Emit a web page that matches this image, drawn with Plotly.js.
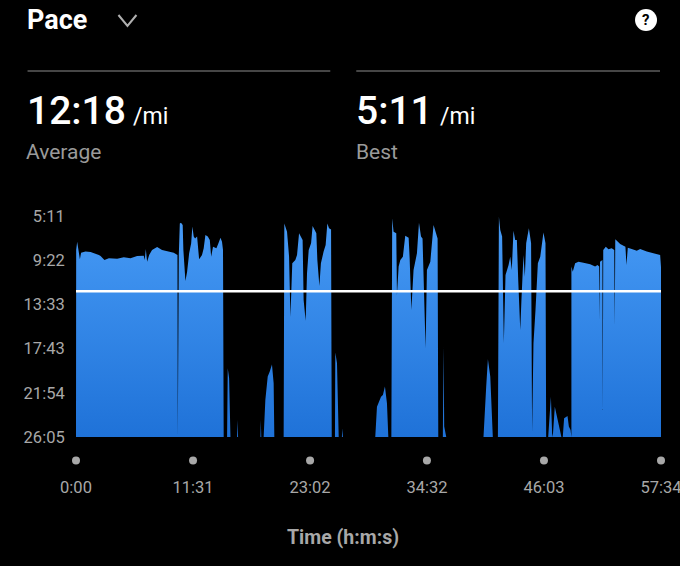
<!DOCTYPE html>
<html>
<head>
<meta charset="utf-8">
<script src="https://cdn.plot.ly/plotly-3.0.1.min.js"></script>
<style>html,body{margin:0;padding:0;background:#000;overflow:hidden;width:680px;height:566px}#c{width:720px;height:566px}</style>
</head>
<body>
<div id="c"></div>
<script>
// elapsed time (s) and pace (s per mile)
const timeSec = [
0,1,7,15,23,30,56,86,115,135,145,168,194,243,282,322,361,400,406,412,420,432,449,479,508,538,577,599,601,607,613,620,630,634,642,646,656,668,680,687,695,703,715,727,744,754,764,778,790,798,809,829,841,853,862,868,872,
892,896,904,912,951,953,957,1089,1091,1094,1108,1118,1132,1144,1157,1167,1171,
1226,1230,1246,1258,1266,1270,1277,1295,1305,1317,1328,1338,1344,1356,1364,1374,1388,1397,1419,1425,1437,1446,1462,1474,1484,1494,1506,1510,
1529,1531,1541,1551,1570,1572,1576,
1767,1777,1787,1801,1812,1824,1836,1844,
1862,1867,1875,1891,1895,1905,1915,1930,1944,1964,1970,1980,1993,2013,2025,2037,2046,2052,2064,2072,2092,2111,2127,2135,2139,
2166,2170,2174,2186,
2406,2422,2432,2446,2461,
2491,2497,2505,2516,2526,2536,2554,2564,2573,2583,2593,2603,2611,2623,2630,2642,2650,2658,2674,2687,2693,2701,2713,2727,2741,2760,2772,2776,
2788,2804,2811,2815,2827,2839,2859,2866,
2874,2882,2902,2910,2920,2922,
2925,2925,2933,2947,2967,2996,3036,3065,3079,3089,3091,3094,3108,3110,3113,3128,3144,3163,3178,3181,3184,3213,3232,3244,3250,3258,3281,3311,3331,3370,3409,3449,3454,3454
];
const paceSec = [
1565,504,457,504,557,519,513,515,523,532,538,561,551,553,545,551,538,536,561,498,570,532,504,487,504,509,519,532,1565,532,353,349,362,504,646,680,627,523,466,371,428,438,428,557,532,494,419,428,447,542,485,494,466,434,457,504,1565,
1565,1175,1232,1565,1565,1468,1565,1565,1468,1565,1565,1355,1222,1194,1153,1260,1565,
1565,353,400,542,882,788,579,561,532,409,428,447,788,905,636,504,466,368,409,561,708,579,513,475,353,381,387,1565,
1565,1086,1147,1565,1565,1516,1565,
1565,1393,1368,1336,1326,1279,1374,1565,
1565,324,400,409,759,598,561,542,423,434,551,844,617,523,349,428,438,636,1062,617,570,362,419,438,1565,
1565,1052,1506,1565,
1565,1279,1124,1222,1565,
1565,315,390,428,1033,646,589,542,617,394,447,447,674,958,788,532,655,466,381,466,1534,1033,844,579,542,404,466,1565,
1565,1336,1544,1565,1393,1449,1525,1565,
1565,1459,1446,1506,1525,1565,
1565,598,627,579,570,576,585,598,589,598,901,570,561,1412,504,485,500,494,504,939,443,470,481,485,589,491,498,508,498,513,523,532,600,1565
];
const averagePace = 738;
const axisStartEnd = [0, 3454];
const xTickVals = [0, 691, 1382, 2072, 2763, 3454];
const xTickText = ['0:00', '11:31', '23:02', '34:32', '46:03', '57:34'];
const yTickVals = [311, 562, 813, 1063, 1314, 1565];
const yTickText = ['5:11', '9:22', '13:33', '17:43', '21:54', '26:05'];

const L = 75.5, R = 661, T = 216, B = 437, W = 720, H = 566;
const fx = p => (p - L) / (R - L);
const fy = p => (B - p) / (B - T);
const font = 'Roboto, sans-serif';

function label(text, x, y, size, color, weight) {
  return {text, xref:'paper', yref:'paper', x:fx(x), y:fy(y), xanchor:'left', yanchor:'middle',
    showarrow:false, borderpad:0, font:{family:font, size, color, weight:weight||400}};
}
function seg(x0,y0,x1,y1,color,w){
  return {type:'line', xref:'paper', yref:'paper', x0:fx(x0), x1:fx(x1), y0:fy(y0), y1:fy(y1), line:{color, width:w}};
}
const dots = xTickVals.map(v => ({type:'circle', xref:'paper', yref:'paper', xsizemode:'pixel', ysizemode:'pixel',
  xanchor:v / axisStartEnd[1], yanchor:fy(460.5), x0:-4, x1:4, y0:-4, y1:4, fillcolor:'#a8a8a8', line:{width:0}}));

const traces = [
  {x:timeSec, y:paceSec, type:'scatter', mode:'lines', line:{width:0, color:'rgba(0,0,0,0)'}, fill:'toself',
   fillgradient:{type:'vertical', start:216, stop:1565, colorscale:[[0,'#4a9ef8'],[1,'#1f72d8']]}, hoverinfo:'skip'},
  {x:axisStartEnd, y:[averagePace, averagePace], type:'scatter', mode:'lines', line:{color:'#ffffff', width:2.5}}
];

const layout = {
  width:W, height:H, paper_bgcolor:'#000', plot_bgcolor:'#000', showlegend:false,
  margin:{l:L, r:W-R, t:T, b:H-B, pad:0},
  xaxis:{range:axisStartEnd, tickmode:'array', tickvals:xTickVals, ticktext:xTickText, showgrid:false, zeroline:false, showline:false,
    ticks:'outside', ticklen:35, tickcolor:'rgba(0,0,0,0)', tickfont:{family:font, size:16.5, color:'#a8a8a8'}},
  yaxis:{range:[1565,311], tickmode:'array', tickvals:yTickVals, ticktext:yTickText, showgrid:false, zeroline:false, showline:false,
    ticks:'outside', ticklen:7, tickcolor:'rgba(0,0,0,0)', tickfont:{family:font, size:16.5, color:'#a8a8a8'}},
  shapes:[
    seg(27,71,330,71,'#464646',2),
    seg(356,71,660,71,'#464646',2),
    {type:'path', xref:'paper', yref:'paper', line:{color:'#b0b0b0', width:2},
     path:`M ${fx(118)} ${fy(15)} L ${fx(127)} ${fy(26)} L ${fx(136)} ${fy(15)}`},
    {type:'circle', xref:'paper', yref:'paper', x0:fx(635), x1:fx(657), y0:fy(9), y1:fy(31), fillcolor:'#fff', line:{width:0}},
    ...dots
  ],
  annotations:[
    label('Pace',25,20,27,'#ffffff',700),
    label('12:18',25,111,39,'#ffffff',500),
    label('/mi',132,116,23,'#ffffff',400),
    label('Average',24.5,152,21,'#9a9a9a',400),
    label('5:11',355,111,39,'#ffffff',500),
    label('/mi',439,116,23,'#ffffff',400),
    label('Best',355,152,21,'#9a9a9a',400),
    label('<b>?</b>',641,20,15,'#000000',700),
    label('Time (h:m:s)',286,537,19.5,'#a8a8a8',700)
  ]
};
Plotly.newPlot('c', traces, layout, {staticPlot:true, displayModeBar:false});
</script>
</body>
</html>
